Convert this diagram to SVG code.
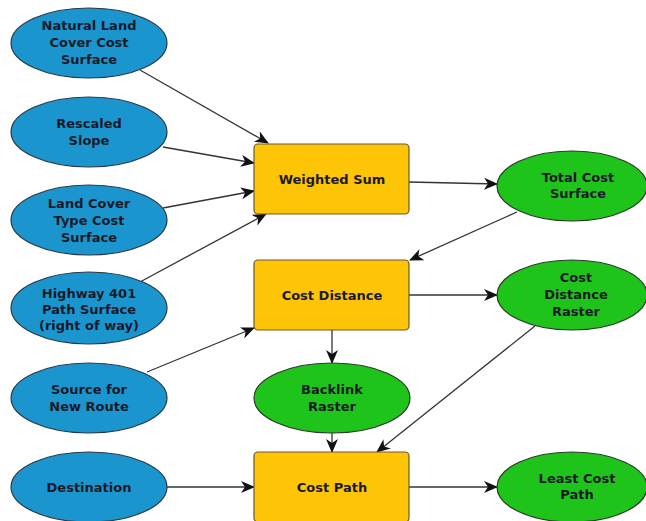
<svg xmlns="http://www.w3.org/2000/svg" width="646" height="521" viewBox="0 0 646 521">
<defs>
<marker id="ah" markerWidth="14" markerHeight="12" refX="13" refY="6" orient="auto" markerUnits="userSpaceOnUse">
<path d="M0,0 L14,6 L0,12 L4,6 z" fill="#111"/>
</marker>
<style>
.in{fill:#1b95cd;stroke:#2a3a4a;stroke-width:1.2}
.out{fill:#1fc41a;stroke:#2a3a2a;stroke-width:1.2}
.tool{fill:#fdc505;stroke:#6b5a2a;stroke-width:1.2}
.t{font-family:"DejaVu Sans",Verdana,sans-serif;font-weight:bold;font-size:13px;fill:#1a1a2a;text-anchor:middle}
.c line{stroke:#333;stroke-width:1.3;marker-end:url(#ah)}
</style>
</defs>
<rect width="646" height="521" fill="#fff"/>
<g class="c" id="connectors">
<line x1="140" y1="70" x2="268" y2="143"/>
<line x1="163" y1="147" x2="254" y2="163"/>
<line x1="163" y1="208" x2="254" y2="191"/>
<line x1="140" y1="282" x2="266" y2="214"/>
<line x1="147" y1="372" x2="254" y2="328"/>
<line x1="167" y1="487" x2="254" y2="487"/>
<line x1="409" y1="182" x2="497" y2="184"/>
<line x1="517" y1="212" x2="410" y2="260"/>
<line x1="409" y1="295" x2="497" y2="295"/>
<line x1="332" y1="330" x2="332" y2="363"/>
<line x1="332" y1="433" x2="332" y2="452"/>
<line x1="535" y1="326" x2="377" y2="452"/>
<line x1="409" y1="487" x2="497" y2="487"/>
</g>
<g id="natural"><ellipse class="in" cx="89" cy="43" rx="78" ry="35"/><text class="t" x="89" y="30">Natural Land</text><text class="t" x="89" y="47">Cover Cost</text><text class="t" x="89" y="64">Surface</text></g>
<g id="slope"><ellipse class="in" cx="89" cy="132" rx="78" ry="35"/><text class="t" x="89" y="128">Rescaled</text><text class="t" x="89" y="145">Slope</text></g>
<g id="landcover"><ellipse class="in" cx="89" cy="220" rx="78" ry="35"/><text class="t" x="89" y="208">Land Cover</text><text class="t" x="89" y="225">Type Cost</text><text class="t" x="89" y="242">Surface</text></g>
<g id="highway"><ellipse class="in" cx="89" cy="308" rx="78" ry="36"/><text class="t" x="89" y="298">Highway 401</text><text class="t" x="89" y="314">Path Surface</text><text class="t" x="89" y="330">(right of way)</text></g>
<g id="source"><ellipse class="in" cx="89" cy="398" rx="78" ry="35"/><text class="t" x="89" y="394">Source for</text><text class="t" x="89" y="411">New Route</text></g>
<g id="destination"><ellipse class="in" cx="89" cy="487" rx="78" ry="35"/><text class="t" x="89" y="492">Destination</text></g>
<g id="weighted"><rect class="tool" x="254" y="144" width="155" height="70" rx="4"/><text class="t" x="332" y="184">Weighted Sum</text></g>
<g id="costdist"><rect class="tool" x="254" y="260" width="155" height="70" rx="4"/><text class="t" x="332" y="300">Cost Distance</text></g>
<g id="costpath"><rect class="tool" x="254" y="452" width="155" height="70" rx="4"/><text class="t" x="332" y="492">Cost Path</text></g>
<g id="totalcost"><ellipse class="out" cx="572" cy="186" rx="75" ry="35"/><text class="t" x="578" y="182">Total Cost</text><text class="t" x="578" y="198">Surface</text></g>
<g id="cdraster"><ellipse class="out" cx="572" cy="295" rx="75" ry="35"/><text class="t" x="576" y="282">Cost</text><text class="t" x="576" y="299">Distance</text><text class="t" x="576" y="316">Raster</text></g>
<g id="backlink"><ellipse class="out" cx="332" cy="398" rx="78" ry="35"/><text class="t" x="332" y="394">Backlink</text><text class="t" x="332" y="411">Raster</text></g>
<g id="leastcost"><ellipse class="out" cx="572" cy="487" rx="75" ry="35"/><text class="t" x="577" y="483">Least Cost</text><text class="t" x="577" y="499">Path</text></g>
</svg>
